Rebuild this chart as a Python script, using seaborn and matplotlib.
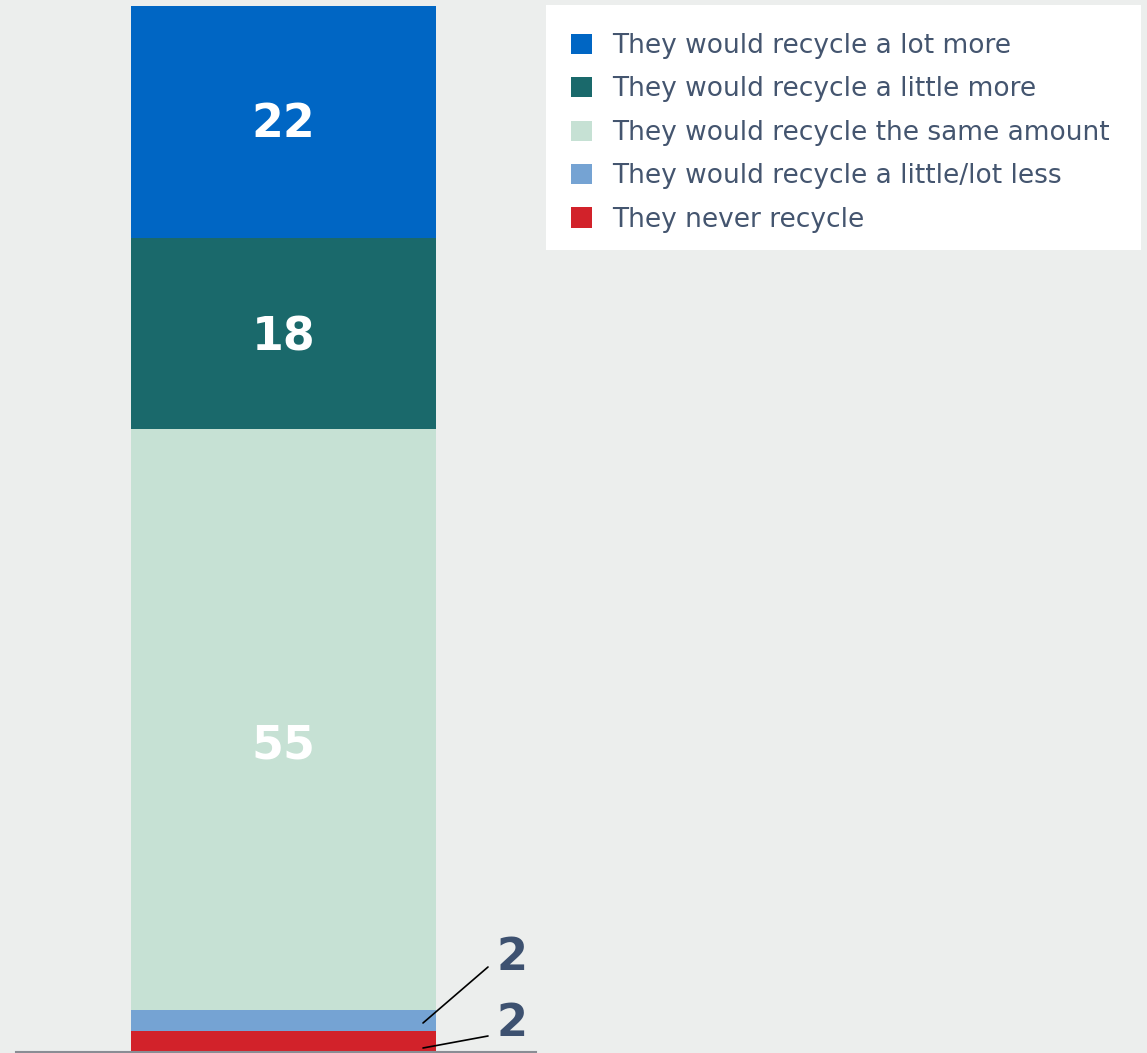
import matplotlib
matplotlib.use("Agg")
import matplotlib.pyplot as plt
from matplotlib.patches import Patch, Rectangle
import seaborn as sns
import pandas as pd
import numpy as np

categories = ["They would recycle a lot more",
              "They would recycle a little more",
              "They would recycle the same amount",
              "They would recycle a little/lot less",
              "They never recycle"]
values = [22, 18, 55, 2, 2]
colors = ["#0066C4", "#1A696B", "#C6E1D4", "#75A3D3", "#D2222A"]

BG = "#ECEEED"
sns.set_theme(style="white")
plt.rcParams['font.family'] = ['DejaVu Sans']

W, H = 1147, 1053
fig = plt.figure(figsize=(W / 100, H / 100), dpi=100, facecolor=BG)
ax = fig.add_axes([16 / W, 1 / H, 520 / W, 1046 / H])
ax.set_facecolor(BG)

order = list(range(len(values)))[::-1]  # bottom: never recycle
cum = np.cumsum([values[i] for i in order])
for k in range(len(order) - 1, -1, -1):
    i = order[k]
    df = pd.DataFrame({"x": [""], "y": [cum[k]]})
    sns.barplot(data=df, x="x", y="y", color=colors[i], width=1.0,
                saturation=1, ax=ax, linewidth=0, errorbar=None)

ax.set_xlim(-267.5 / 305, 252.5 / 305)
ax.set_ylim(0, sum(values))
ax.set_xticks([])
ax.set_yticks([])
ax.set_xlabel("")
ax.set_ylabel("")
for s in ["top", "right", "left"]:
    ax.spines[s].set_visible(False)
ax.spines["bottom"].set_color("#8A8D94")
ax.spines["bottom"].set_linewidth(1.5)

# labels inside large segments (pixel offsets match the original placement)
label_offset_px = {0: -2, 1: -4, 2: -27}
bottoms = np.concatenate([[0], cum[:-1]])
for k, i in enumerate(order):
    mid = bottoms[k] + values[i] / 2
    if values[i] >= 5:
        ax.annotate(str(values[i]), (0, mid), xytext=(0, label_offset_px.get(i, 0) * 0.72),
                    textcoords="offset points", ha="center", va="center",
                    color="white", fontsize=33, fontweight="bold")

# small segment callouts
small_lab_y = {3: 957, 4: 1023}
line_start_y = {3: 967, 4: 1036}
small_pt_y = {3: 1023, 4: 1048}
for i in (3, 4):
    ty = 1 - small_lab_y[i] / H
    fig.text(512 / W, ty, str(values[i]), ha="center", va="center",
             color="#3D5170", fontsize=32, fontweight="bold")
    fig.add_artist(plt.Line2D([488 / W, 423 / W],
                              [1 - line_start_y[i] / H, 1 - small_pt_y[i] / H],
                              color="black", linewidth=1.2))

# legend box
fig.add_artist(Rectangle((546 / W, 1 - 250 / H), 595 / W, 245 / H,
                         transform=fig.transFigure, facecolor="white",
                         edgecolor="none", zorder=0))
handles = [Patch(facecolor=c, edgecolor="none") for c in colors]
leg = fig.legend(handles, categories, loc="upper left",
                 bbox_to_anchor=(571 / W, 1 - 33 / H), frameon=False,
                 fontsize=19, handlelength=0.8, handleheight=0.8,
                 handletextpad=0.76, labelspacing=0.66, borderpad=0,
                 borderaxespad=0)
for t in leg.get_texts():
    t.set_color("#44556F")

fig.savefig("out.png", dpi=100, facecolor=BG)
